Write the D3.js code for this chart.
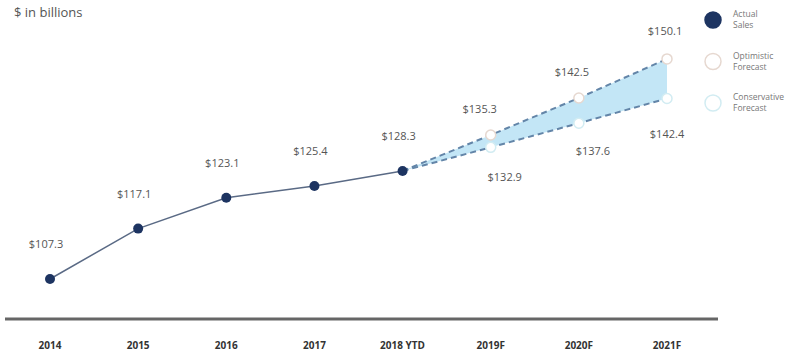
<!DOCTYPE html>
<html><head><meta charset="utf-8">
<script src="https://cdn.jsdelivr.net/npm/d3@7"></script>
<style>body{margin:0;background:#fff}svg{display:block}text{font-family:"Open Sans",Arial,sans-serif}</style>
</head><body>
<script>
const categories = ["2014","2015","2016","2017","2018 YTD","2019F","2020F","2021F"];
const actual = [107.3,117.1,123.1,125.4,128.3];
const optimistic = [128.3,135.3,142.5,150.1];
const conservative = [128.3,132.9,137.6,142.4];
const legendLabels = [["Actual","Sales"],["Optimistic","Forecast"],["Conservative","Forecast"]];
// label offsets (layout only)
const optOff = [[-11,-22],[-7,-22],[-2,-24]];
const conOff = [[14,34],[14,32],[0,40]];
const W=803,H=355;
const svg=d3.select("body").append("svg").attr("width",W).attr("height",H);
const x=d3.scalePoint().domain(categories).range([50,667]);
const y=d3.scaleLinear().domain([107.3,128.3]).range([279,171]);
svg.append("text").attr("x",14).attr("y",17).attr("font-size",13).attr("fill","#555").text("$ in billions");
svg.append("line").attr("x1",5).attr("x2",718).attr("y1",319).attr("y2",319).attr("stroke","#666").attr("stroke-width",3);
svg.selectAll("text.cat").data(categories).join("text").attr("class","cat")
 .attr("x",d=>x(d)).attr("y",349).attr("text-anchor","middle").attr("font-size",10).attr("font-weight","bold").attr("fill","#333").text(d=>d);
const fc = categories.slice(4);
const area=d3.area().x((d,i)=>x(fc[i])).y0((d,i)=>y(conservative[i])).y1(d=>y(d));
svg.append("path").datum(optimistic).attr("d",area).attr("fill","#c3e6f6");
const line=d3.line().x((d,i)=>x(fc[i])).y(d=>y(d));
[optimistic,conservative].forEach(s=>{
 svg.append("path").datum(s).attr("d",line).attr("fill","none").attr("stroke","#6385a8").attr("stroke-width",2).attr("stroke-dasharray","6,4");
});
const aline=d3.line().x((d,i)=>x(categories[i])).y(d=>y(d));
svg.append("path").datum(actual).attr("d",aline).attr("fill","none").attr("stroke","#5a6a85").attr("stroke-width",1.5);
svg.selectAll("circle.a").data(actual).join("circle").attr("class","a").attr("cx",(d,i)=>x(categories[i])).attr("cy",d=>y(d)).attr("r",5).attr("fill","#1d3461");
svg.selectAll("circle.o").data(optimistic.slice(1)).join("circle").attr("class","o").attr("cx",(d,i)=>x(fc[i+1])).attr("cy",d=>y(d)).attr("r",5).attr("fill","#fff").attr("stroke","#e6d8d0").attr("stroke-width",1.5);
svg.selectAll("circle.c").data(conservative.slice(1)).join("circle").attr("class","c").attr("cx",(d,i)=>x(fc[i+1])).attr("cy",d=>y(d)).attr("r",5).attr("fill","#fff").attr("stroke","#d2ecf2").attr("stroke-width",1.5);
const lab=(cx,cy,t)=>svg.append("text").attr("x",cx).attr("y",cy).attr("text-anchor","middle").attr("font-size",11).attr("fill","#555").text(t);
const fmt=v=>"$"+v.toFixed(1);
actual.forEach((v,i)=>lab(x(categories[i])-4,y(v)-31,fmt(v)));
optimistic.slice(1).forEach((v,i)=>lab(x(fc[i+1])+optOff[i][0],y(v)+optOff[i][1],fmt(v)));
conservative.slice(1).forEach((v,i)=>lab(x(fc[i+1])+conOff[i][0],y(v)+conOff[i][1],fmt(v)));
const lc=[{f:"#1d3461",s:"#1d3461"},{f:"#fff",s:"#e6d8d0"},{f:"#fff",s:"#d2ecf2"}];
legendLabels.forEach((l,i)=>{
 const cy=20+i*41.5;
 svg.append("circle").attr("cx",713).attr("cy",cy).attr("r",8).attr("fill",lc[i].f).attr("stroke",lc[i].s).attr("stroke-width",1.5);
 l.forEach((t,j)=>svg.append("text").attr("x",733).attr("y",cy-3+j*11).attr("font-size",8.5).attr("fill","#777").text(t));
});
</script>
</body></html>
